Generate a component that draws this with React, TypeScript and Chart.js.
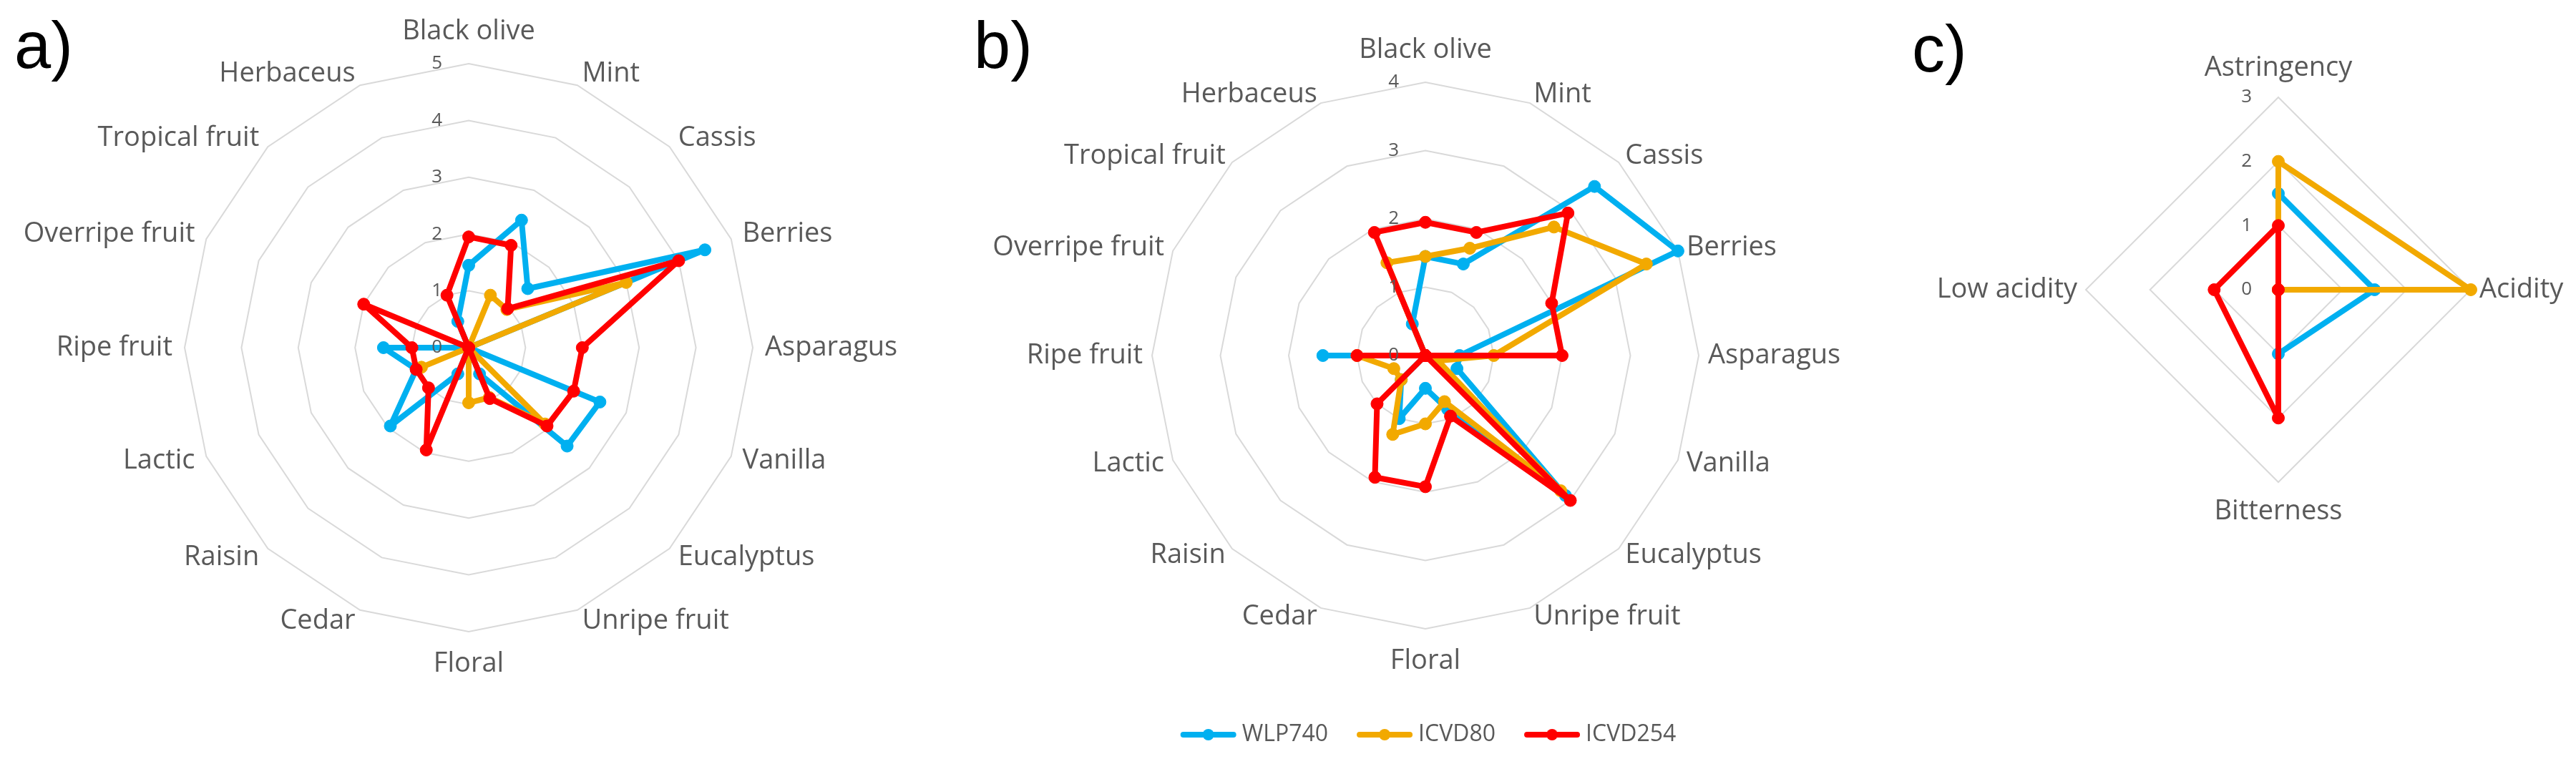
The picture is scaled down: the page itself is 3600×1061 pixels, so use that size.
import React, { useEffect, useRef } from 'react';
import { Chart, registerables } from 'chart.js';

Chart.register(...registerables);

// ---------- data ----------
const aromaLabels = [
  'Black olive', 'Mint', 'Cassis', 'Berries', 'Asparagus', 'Vanilla', 'Eucalyptus', 'Unripe fruit',
  'Floral', 'Cedar', 'Raisin', 'Lactic', 'Ripe fruit', 'Overripe fruit', 'Tropical fruit', 'Herbaceus',
];
const tasteLabels = ['Astringency', 'Acidity', 'Bitterness', 'Low acidity'];
const seriesNames = ['WLP740', 'ICVD80', 'ICVD254'];

// panel a) aroma
const aWLP740 = [1.45, 2.43, 1.47, 4.5, 0, 2.5, 2.45, 0.5, 0, 0.5, 1.95, 1.0, 1.5, 0, 0, 0.5];
const aICVD80 = [0, 1.0, 0.95, 3.0, 0, 0, 1.9, 0.95, 0.97, 0, 0, 0.9, 0, 0, 0, 0];
const aICVD254 = [1.95, 1.95, 0.97, 4.0, 2.0, 2.0, 1.95, 0.97, 0, 1.95, 1.0, 1.0, 1.0, 2.0, 0, 1.0];

// panel b) aroma
const bWLP740 = [1.45, 1.45, 3.5, 4.0, 0.5, 0.5, 2.9, 0.85, 0.48, 1.0, 0.5, 0, 1.5, 0, 0, 0.5];
const bICVD80 = [1.45, 1.7, 2.66, 3.5, 1.0, 0.2, 2.8, 0.73, 1.0, 1.25, 0.5, 0.5, 1.0, 0, 0, 1.47];
const bICVD254 = [1.95, 1.95, 2.95, 2.0, 2.0, 0, 3.0, 0.96, 1.92, 1.93, 1.0, 0, 1.0, 0, 0, 1.95];

// panel c) taste
const cWLP740 = [1.5, 1.5, 1.0, 0];
const cICVD80 = [2.0, 3.0, 0, 0];
const cICVD254 = [1.0, 0, 2.0, 1.0];

const aTicks = [0, 1, 2, 3, 4, 5];
const bTicks = [0, 1, 2, 3, 4];
const cTicks = [0, 1, 2, 3];

// ---------- styles ----------
const COLORS = ['#00B0F0', '#F2A900', '#FF0000'];
const LABEL_COLOR = '#595959';
const FONT = '"Open Sans", "Noto Sans", sans-serif';
const PAGE_W = 3600;
const PAGE_H = 1061;

type PanelCfg = {
  letter: string;
  letterX: number;
  letterY: number;
  left: number;
  width: number;
  cx: number;
  cy: number;
  R: number;
  max: number;
  ticks: number[];
  labels: string[];
  series: number[][];
  dSide: number;
  dTop: number;
  legend?: boolean;
  legendCx?: number;
  legendY?: number;
};

const panels: PanelCfg[] = [
  {
    letter: 'a)', letterX: 20, letterY: 95, left: 0, width: 1300,
    cx: 655, cy: 486, R: 397, max: 5, ticks: aTicks, labels: aromaLabels,
    series: [aWLP740, aICVD80, aICVD254], dSide: 17, dTop: 45,
  },
  {
    letter: 'b)', letterX: 1361, letterY: 95, left: 1300, width: 1400,
    cx: 1992, cy: 497, R: 382, max: 4, ticks: bTicks, labels: aromaLabels,
    series: [bWLP740, bICVD80, bICVD254], dSide: 13, dTop: 45,
    legend: true, legendCx: 1996, legendY: 1027,
  },
  {
    letter: 'c)', letterX: 2672, letterY: 100, left: 2600, width: 1000,
    cx: 3184, cy: 405, R: 269, max: 3, ticks: cTicks, labels: tasteLabels,
    series: [cWLP740, cICVD80, cICVD254], dSide: 12, dTop: 41,
  },
];

function decorPlugin(cfg: PanelCfg) {
  return {
    id: 'excelDecor',
    afterDatasetsDraw(chart: any) {
      const ctx = chart.ctx as CanvasRenderingContext2D;
      const s = chart.scales.r;
      const R = s.drawingArea;
      const cx = s.xCenter;
      const cy = s.yCenter;
      ctx.save();

      // tick labels
      ctx.font = `26px ${FONT}`;
      ctx.fillStyle = LABEL_COLOR;
      ctx.textAlign = 'right';
      ctx.textBaseline = 'middle';
      cfg.ticks.forEach((v) => {
        const d = s.getDistanceFromCenterForValue(v);
        ctx.fillText(String(v), cx - 37, cy - d);
      });

      // point labels
      ctx.font = `38px ${FONT}`;
      (chart.data.labels as string[]).forEach((lab, i) => {
        const deg = (s.getIndexAngle(i) * 180) / Math.PI;
        if (Math.abs(deg) < 0.5 || Math.abs(deg - 360) < 0.5) {
          ctx.textAlign = 'center';
          ctx.fillText(lab, cx, cy - R - cfg.dTop);
        } else if (Math.abs(deg - 180) < 0.5) {
          ctx.textAlign = 'center';
          ctx.fillText(lab, cx, cy + R + cfg.dTop);
        } else {
          const p = s.getPointPosition(i, R + cfg.dSide);
          ctx.textAlign = deg < 180 ? 'left' : 'right';
          ctx.fillText(lab, p.x, p.y);
        }
      });

      // panel letter
      ctx.font = `92px "Liberation Sans", Arial, sans-serif`;
      ctx.fillStyle = '#000000';
      ctx.textAlign = 'left';
      ctx.textBaseline = 'alphabetic';
      ctx.fillText(cfg.letter, cfg.letterX - cfg.left, cfg.letterY);

      // legend
      if (cfg.legend) {
        ctx.font = `32px ${FONT}`;
        const lineLen = 78;
        const gapText = 8;
        const gapItem = 40;
        const widths = seriesNames.map((n) => ctx.measureText(n).width);
        const total = widths.reduce((a, w) => a + lineLen + gapText + w, 0) + gapItem * (seriesNames.length - 1);
        let x = (cfg.legendCx as number) - cfg.left - total / 2;
        const y = cfg.legendY as number;
        seriesNames.forEach((n, i) => {
          ctx.strokeStyle = COLORS[i];
          ctx.lineWidth = 8;
          ctx.lineCap = 'round';
          ctx.beginPath();
          ctx.moveTo(x + 4, y);
          ctx.lineTo(x + lineLen - 4, y);
          ctx.stroke();
          ctx.fillStyle = COLORS[i];
          ctx.beginPath();
          ctx.arc(x + lineLen / 2, y, 8, 0, Math.PI * 2);
          ctx.fill();
          ctx.fillStyle = LABEL_COLOR;
          ctx.textAlign = 'left';
          ctx.textBaseline = 'middle';
          ctx.fillText(n, x + lineLen + gapText, y);
          x += lineLen + gapText + widths[i] + gapItem;
        });
      }
      ctx.restore();
    },
  };
}

function RadarPanel({ cfg }: { cfg: PanelCfg }) {
  const ref = useRef<HTMLCanvasElement | null>(null);
  useEffect(() => {
    const canvas = ref.current;
    if (!canvas) return;
    const pad = {
      left: cfg.cx - cfg.R - cfg.left,
      right: cfg.left + cfg.width - (cfg.cx + cfg.R),
      top: cfg.cy - cfg.R,
      bottom: PAGE_H - (cfg.cy + cfg.R),
    };
    const chart = new Chart(canvas, {
      type: 'radar',
      data: {
        labels: cfg.labels,
        datasets: cfg.series.map((d, i) => ({
          label: seriesNames[i],
          data: d,
          borderColor: COLORS[i],
          backgroundColor: COLORS[i],
          pointBackgroundColor: COLORS[i],
          pointBorderColor: COLORS[i],
          fill: false,
          clip: false as any,
          order: 2 - i,
        })),
      },
      options: {
        responsive: false,
        animation: false,
        devicePixelRatio: 1,
        layout: { padding: pad },
        plugins: { legend: { display: false }, tooltip: { enabled: false } },
        elements: {
          line: { borderWidth: 8, tension: 0, borderJoinStyle: 'round', borderCapStyle: 'round' },
          point: { radius: 8.5, borderWidth: 1, hoverRadius: 8.5 },
        },
        scales: {
          r: {
            min: 0,
            max: cfg.max,
            beginAtZero: true,
            ticks: { display: false, stepSize: 1 },
            grid: { color: '#D9D9D9', lineWidth: 2, circular: false },
            angleLines: { display: false },
            pointLabels: { display: false },
          },
        },
      } as any,
      plugins: [decorPlugin(cfg)],
    });
    return () => chart.destroy();
  }, [cfg]);
  return (
    <canvas
      ref={ref}
      width={cfg.width}
      height={PAGE_H}
      style={{ position: 'absolute', left: cfg.left, top: 0, width: cfg.width, height: PAGE_H }}
    />
  );
}

export default function App() {
  return (
    <div
      style={{
        position: 'absolute',
        left: 0,
        top: 0,
        width: PAGE_W,
        height: PAGE_H,
        background: '#ffffff',
        overflow: 'hidden',
      }}
    >
      {panels.map((p) => (
        <RadarPanel key={p.letter} cfg={p} />
      ))}
    </div>
  );
}
